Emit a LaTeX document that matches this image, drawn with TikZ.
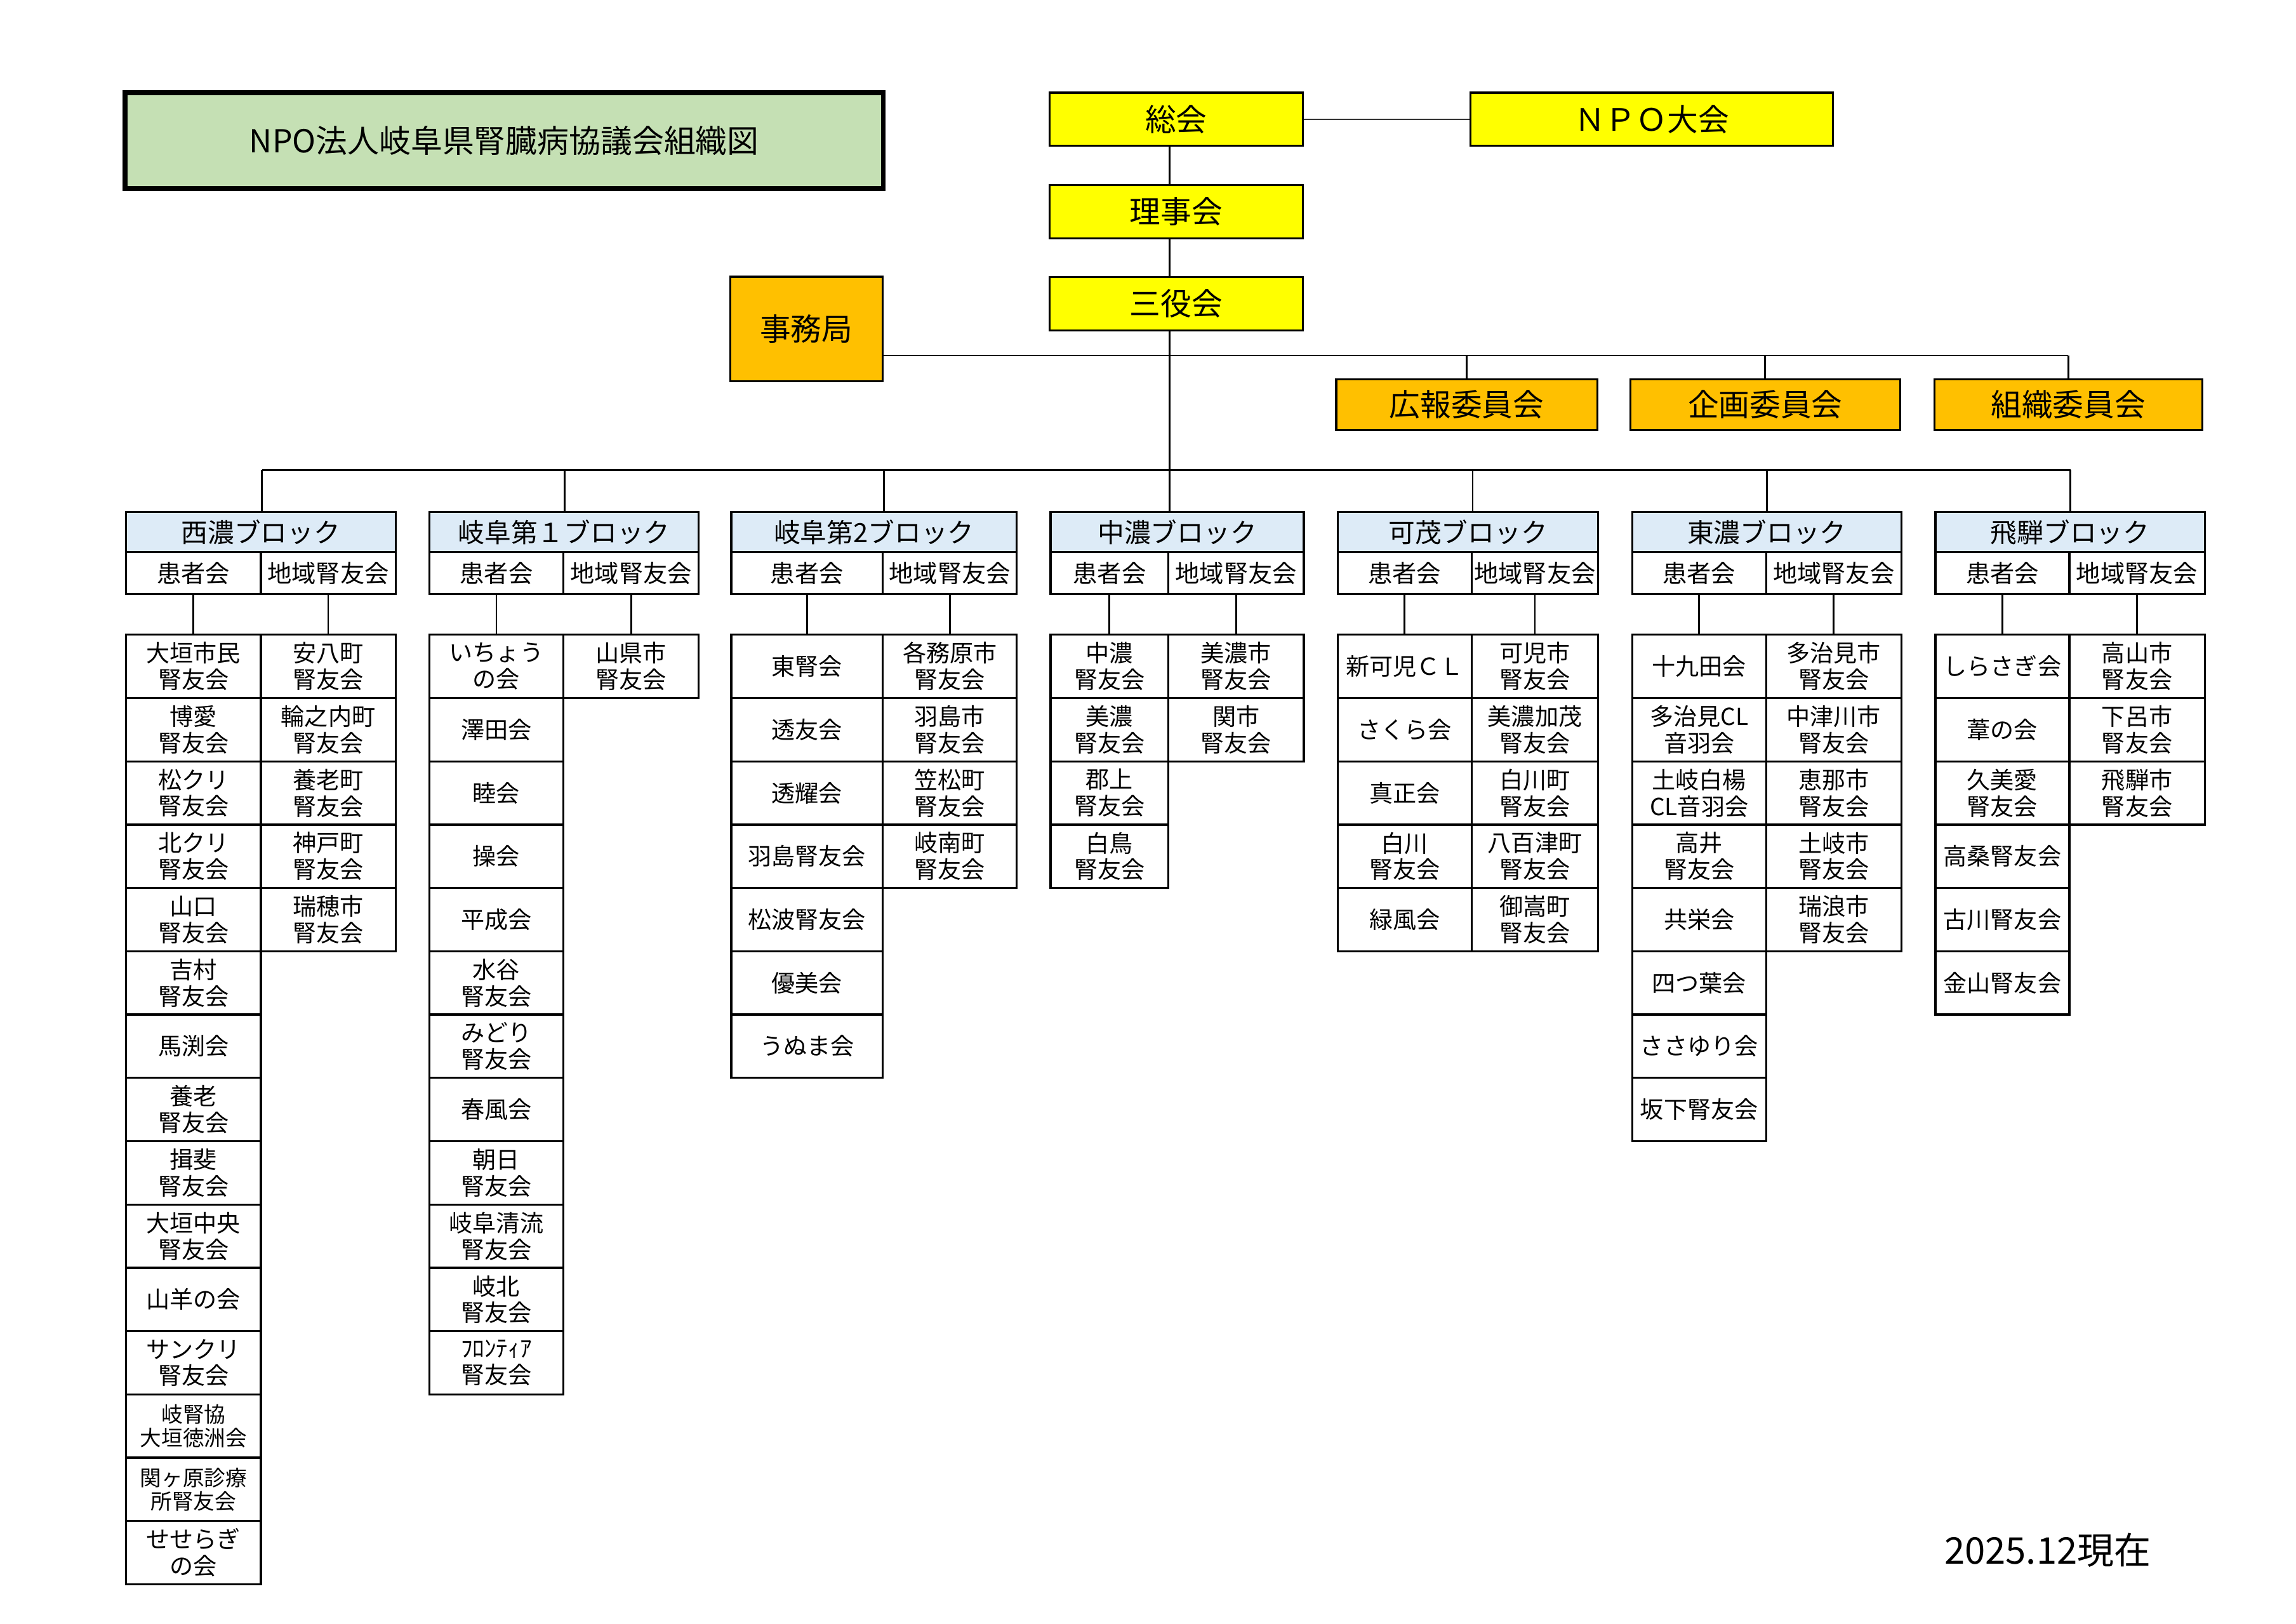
\documentclass[tikz,border=0pt]{standalone}
\usepackage{fontspec}
\setmainfont{Noto Sans CJK JP}
\usetikzlibrary{backgrounds}

\definecolor{titlegreen}{HTML}{C5E0B4}
\definecolor{boardyellow}{HTML}{FFFF00}
\definecolor{cmtorange}{HTML}{FFC000}
\definecolor{blockblue}{HTML}{DDEBF7}

\tikzset{
  box/.style={draw, line width=1.4pt, inner sep=0pt, align=center},
  topbox/.style={box, fill=boardyellow, minimum width=172pt, minimum height=36pt, font=\fontsize{21}{24}\selectfont},
  cmtbox/.style={box, fill=cmtorange, minimum height=34.5pt, font=\fontsize{21}{24}\selectfont},
  blockhead/.style={box, fill=blockblue, anchor=north west, minimum height=27.3pt, font=\fontsize{18}{20}\selectfont},
  subhead/.style={box, anchor=north west, minimum height=28.5pt, font=\fontsize{16.5}{18}\selectfont},
  cell/.style={box, anchor=north west, minimum height=43pt, font=\fontsize{16}{18}\selectfont},
  link/.style={line width=1.2pt},
  thinlink/.style={line width=0.9pt, draw=black!80}
}

\begin{document}
\begin{tikzpicture}[x=1pt,y=-1pt]
\useasboundingbox (0,0) rectangle (1559.7,1103);

\node[box, line width=3.3pt, fill=titlegreen, minimum width=515pt, minimum height=65pt, font=\fontsize{21.5}{24}\selectfont] (title) at (342.5,95.5) {NPO法人岐阜県腎臓病協議会組織図};

\node[topbox] (soukai) at (799,81) {総会};
\node[topbox, minimum width=246pt] (npo) at (1122,81) {ＮＰＯ大会};
\node[topbox] (riji) at (799,143.8) {理事会};
\node[topbox] (sanyaku) at (799,206.3) {三役会};
\node[cmtbox, minimum width=103.5pt, minimum height=71pt] (jimu) at (547.75,223.5) {事務局};
\node[cmtbox, minimum width=177.3pt] (kouhou) at (996.35,274.85) {広報委員会};
\node[cmtbox, minimum width=183.2pt] (kikaku) at (1199.1,274.85) {企画委員会};
\node[cmtbox, minimum width=182pt] (soshiki) at (1405,274.85) {組織委員会};

\coordinate (upperbar) at (0,241.5);
\coordinate (lowerbar) at (0,319.3);

% block heads
\foreach \b/\l/\s/\r/\name in {1/85/176.5/268/西濃ブロック, 2/291/382/474/岐阜第１ブロック,
    3/496/599/690/岐阜第2ブロック, 4/713/793/885/中濃ブロック, 5/908/999/1085/可茂ブロック,
    6/1108/1199/1291/東濃ブロック, 7/1314/1405/1497/飛騨ブロック} {
  \pgfmathsetmacro\wall{\r-\l}
  \pgfmathsetmacro\wleft{\s-\l}
  \pgfmathsetmacro\wright{\r-\s}
  \node[blockhead, minimum width=\wall pt] (h\b) at (\l,347) {\name};
  \node[subhead, minimum width=\wleft pt] (p\b) at (\l,374.3) {患者会};
  \node[subhead, minimum width=\wright pt] (r\b) at (\s,374.3) {地域腎友会};
}

% 西濃
\foreach \t [count=\i from 0] in {大垣市民\\腎友会, 博愛\\腎友会, 松クリ\\腎友会, 北クリ\\腎友会,
    山口\\腎友会, 吉村\\腎友会, 馬渕会, 養老\\腎友会, 揖斐\\腎友会, 大垣中央\\腎友会, 山羊の会, サンクリ\\腎友会}
  \node[cell, minimum width=91.5pt] (p1-\i) at (85,{430.4+43*\i}) {\t};
\node[cell, minimum width=91.5pt, font=\fontsize{14.5}{16}\selectfont] (p1-12) at (85,946.4) {岐腎協\\大垣徳洲会};
\node[cell, minimum width=91.5pt, font=\fontsize{14.5}{16}\selectfont] (p1-13) at (85,989.4) {関ヶ原診療\\所腎友会};
\node[cell, minimum width=91.5pt] (p1-14) at (85,1032.4) {せせらぎ\\の会};
\foreach \t [count=\i from 0] in {安八町, 輪之内町, 養老町, 神戸町, 瑞穂市}
  \node[cell, minimum width=91.5pt] (r1-\i) at (176.5,{430.4+43*\i}) {\t\\腎友会};

% 岐阜第1
\foreach \t [count=\i from 0] in {いちょう\\の会, 澤田会, 睦会, 操会, 平成会, 水谷\\腎友会, みどり\\腎友会,
    春風会, 朝日\\腎友会, 岐阜清流\\腎友会, 岐北\\腎友会, ﾌﾛﾝﾃｨｱ\\腎友会}
  \node[cell, minimum width=91pt] (p2-\i) at (291,{430.4+43*\i}) {\t};
\node[cell, minimum width=92pt] (r2-0) at (382,430.4) {山県市\\腎友会};

% 岐阜第2
\foreach \t [count=\i from 0] in {東腎会, 透友会, 透耀会, 羽島腎友会, 松波腎友会, 優美会, うぬま会}
  \node[cell, minimum width=103pt] (p3-\i) at (496,{430.4+43*\i}) {\t};
\foreach \t [count=\i from 0] in {各務原市, 羽島市, 笠松町, 岐南町}
  \node[cell, minimum width=91pt] (r3-\i) at (599,{430.4+43*\i}) {\t\\腎友会};

% 中濃
\foreach \t [count=\i from 0] in {中濃, 美濃, 郡上, 白鳥}
  \node[cell, minimum width=80pt] (p4-\i) at (713,{430.4+43*\i}) {\t\\腎友会};
\foreach \t [count=\i from 0] in {美濃市, 関市}
  \node[cell, minimum width=92pt] (r4-\i) at (793,{430.4+43*\i}) {\t\\腎友会};

% 可茂
\foreach \t [count=\i from 0] in {新可児ＣＬ, さくら会, 真正会, 白川\\腎友会, 緑風会}
  \node[cell, minimum width=91pt] (p5-\i) at (908,{430.4+43*\i}) {\t};
\foreach \t [count=\i from 0] in {可児市, 美濃加茂, 白川町, 八百津町, 御嵩町}
  \node[cell, minimum width=86pt] (r5-\i) at (999,{430.4+43*\i}) {\t\\腎友会};

% 東濃
\foreach \t [count=\i from 0] in {十九田会, 多治見CL\\音羽会, 土岐白楊\\CL音羽会, 高井\\腎友会, 共栄会,
    四つ葉会, ささゆり会, 坂下腎友会}
  \node[cell, minimum width=91pt] (p6-\i) at (1108,{430.4+43*\i}) {\t};
\foreach \t [count=\i from 0] in {多治見市, 中津川市, 恵那市, 土岐市, 瑞浪市}
  \node[cell, minimum width=92pt] (r6-\i) at (1199,{430.4+43*\i}) {\t\\腎友会};

% 飛騨
\foreach \t [count=\i from 0] in {しらさぎ会, 葦の会, 久美愛\\腎友会, 高桑腎友会, 古川腎友会, 金山腎友会}
  \node[cell, minimum width=91pt] (p7-\i) at (1314,{430.4+43*\i}) {\t};
\foreach \t [count=\i from 0] in {高山市, 下呂市, 飛騨市}
  \node[cell, minimum width=92pt] (r7-\i) at (1405,{430.4+43*\i}) {\t\\腎友会};

\node[font=\fontsize{25}{28}\selectfont] (date) at (1391,1053) {2025.12現在};

% connectors
\begin{scope}[on background layer]
\draw[thinlink] (soukai.east) -- (npo.west);
\draw[link] (soukai.south -| p4.north east) -- (p4.north east |- h4.north);
\draw[link] (jimu.east |- upperbar) -- (soshiki.north |- upperbar);
\foreach \c in {kouhou,kikaku,soshiki}
  \draw[link] (\c.north |- upperbar) -- (\c.north);
\draw[link] (p1.north east |- lowerbar) -- (p7.north east |- lowerbar);
\foreach \b in {1,...,7} {
  \draw[link] (p\b.north east |- lowerbar) -- (p\b.north east |- h\b.north);
  \draw[link] (p\b.south) -- (p\b-0.north);
  \draw[link] (r\b.south) -- (r\b-0.north);
}
\end{scope}
\end{tikzpicture}
\end{document}
